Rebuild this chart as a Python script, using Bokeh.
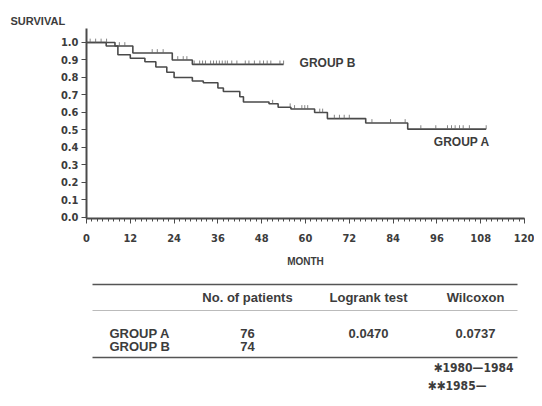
import numpy as np
from bokeh.plotting import figure
from bokeh.layouts import column
from bokeh.models import Range1d, Label, FixedTicker, NumeralTickFormatter
from bokeh.core.properties import value
from bokeh.embed import file_html
from bokeh.resources import INLINE

# ---------------- data ----------------
a_times = [0, 5.4, 8.6, 12, 16, 19, 22, 24, 29, 32, 36, 37.5, 42, 43, 50, 52.5, 56, 62.5, 66, 76.5, 88]
a_surv = [1.0, 0.98, 0.93, 0.91, 0.89, 0.86, 0.83, 0.80, 0.78, 0.77, 0.74, 0.72, 0.69, 0.66, 0.65, 0.63, 0.62, 0.60, 0.565, 0.54, 0.505]
a_end = 109.5
a_censor = [51, 55.8, 57, 59, 59.8, 60.6, 63.9, 64.7, 67.9, 69.3, 70.6, 72, 78.2, 83.3, 87.3,
            91.6, 95.7, 98.9, 100, 101, 102.2, 103.2, 104.9, 109.5]

b_times = [0, 7.8, 12.7, 23.5, 29]
b_surv = [1.0, 0.98, 0.94, 0.90, 0.875]
b_end = 54
b_censor = [1, 2.5, 4, 5.5, 9, 10.5, 18, 19.4, 21, 25, 26.5, 27.5, 29.5, 31, 31.8, 32.6, 34, 34.8,
            35.6, 36.4, 37.2, 38, 38.6, 39.8, 41.2, 43.5, 44.5, 46, 47.5, 48.5, 49.5, 50.5, 53, 54]

x_ticks = [0, 12, 24, 36, 48, 60, 72, 84, 96, 108, 120]
y_ticks = [0.0, 0.1, 0.2, 0.3, 0.4, 0.5, 0.6, 0.7, 0.8, 0.9, 1.0]

table_header = ["No. of patients", "Logrank test", "Wilcoxon"]
table_groups = ["GROUP A", "GROUP B"]
table_patients = ["76", "74"]
table_logrank = ["0.0470", ""]
table_wilcoxon = ["0.0737", ""]
footnotes = ["\u27311980\u20141984", "\u2731\u27311985\u2014"]

TXT = "#3c3c3c"
LINE = "#4a4a4a"
FONT = "Liberation Sans"
NUMFONT = "DejaVu Sans Condensed"

W = 534
BL, BR = 86, 10

# ---------------- chart ----------------
p = figure(width=W, height=278, output_backend="svg", toolbar_location=None,
           x_range=Range1d(0, 120), y_range=Range1d(-0.006, 1.08),
           min_border_left=BL, min_border_right=BR, min_border_top=28, min_border_bottom=60)
p.outline_line_color = None
p.grid.grid_line_color = None
p.background_fill_color = "white"
p.border_fill_color = "white"

p.title.text = "SURVIVAL"
p.title.align = "left"
p.title.offset = -76
p.title.standoff = 2
p.title.vertical_align = "middle"
p.title.text_font = FONT
p.title.text_font_style = "bold"
p.title.text_font_size = "11px"
p.title.text_color = TXT


def step_xy(times, surv, end):
    xs = list(times) + [end]
    ys = list(surv) + [surv[-1]]
    return xs, ys


def surv_at(times, surv, t):
    idx = np.searchsorted(np.array(times), np.array(t), side="right") - 1
    return np.array(surv)[idx]


for times, surv, end, cens in [(a_times, a_surv, a_end, a_censor), (b_times, b_surv, b_end, b_censor)]:
    xs, ys = step_xy(times, surv, end)
    p.step(xs, ys, mode="after", line_color=LINE, line_width=1.6)
    sy = surv_at(times, surv, cens)
    p.segment(x0=cens, y0=sy, x1=cens, y1=sy + 0.022, line_color="#666666", line_width=0.8)

p.xaxis.ticker = FixedTicker(ticks=x_ticks, minor_ticks=list(np.arange(0, 121, 1.5)))
p.yaxis.ticker = FixedTicker(ticks=y_ticks)
p.yaxis.formatter = NumeralTickFormatter(format="0.0")

for ax in (p.xaxis[0], p.yaxis[0]):
    ax.axis_line_color = LINE
    ax.axis_line_width = 2
    ax.major_tick_line_color = LINE
    ax.minor_tick_line_color = LINE
    ax.major_label_text_color = TXT
    ax.major_label_text_font = NUMFONT
    ax.major_label_text_font_size = "11px"
    ax.major_label_text_font_style = "bold"

p.xaxis.major_tick_out = 5
p.xaxis.major_tick_in = 0
p.xaxis.minor_tick_out = 3
p.xaxis.minor_tick_in = 0
p.xaxis.major_label_standoff = 10
p.xaxis.axis_label = "MONTH"
p.xaxis.axis_label_text_font = FONT
p.xaxis.axis_label_text_font_style = "bold"
p.xaxis.axis_label_text_font_size = "10px"
p.xaxis.axis_label_text_color = TXT
p.xaxis.axis_label_standoff = 11

p.yaxis.major_tick_out = 5
p.yaxis.major_tick_in = 0
p.yaxis.minor_tick_out = 0
p.yaxis.minor_tick_in = 0
p.yaxis.major_label_standoff = 3

p.add_layout(Label(x=b_end, y=b_surv[-1], text="GROUP  B", text_font=FONT, text_font_style="bold",
                   text_font_size="12px", text_color=TXT, text_align="left", text_baseline="middle",
                   x_offset=16, y_offset=1))
p.add_layout(Label(x=a_end, y=a_surv[-1], text="GROUP  A", text_font=FONT, text_font_style="bold",
                   text_font_size="12px", text_color=TXT, text_align="right", text_baseline="middle",
                   x_offset=7, y_offset=-13))

# ---------------- table (coordinates in page pixels) ----------------
t = figure(width=W, height=120, output_backend="svg", toolbar_location=None,
           x_range=Range1d(BL, W - BR), y_range=Range1d(398, 278),
           min_border_left=BL, min_border_right=BR, min_border_top=0, min_border_bottom=0)
t.axis.visible = False
t.grid.grid_line_color = None
t.outline_line_color = None

t.segment(x0=[92, 92, 92], y0=[284, 310, 357], x1=[517, 517, 517], y1=[284, 310, 357],
          line_color=["#555555", "#bbbbbb", "#555555"], line_width=[1.6, 1, 1.6])

col_x = [247, 368, 475]
t.text(x=col_x, y=[297, 297, 297], text=table_header, text_font=value(FONT), text_font_style="bold",
       text_font_size="13px", text_color=TXT, text_align="center", text_baseline="middle")
row_y = [333, 346]
t.text(x=[109, 109], y=row_y, text=table_groups, text_font=value(FONT), text_font_style="bold",
       text_font_size="13px", text_color=TXT, text_align="left", text_baseline="middle")
t.text(x=[col_x[0]] * 2, y=row_y, text=table_patients, text_font=value(FONT),
       text_font_style="bold", text_font_size="13px", text_color=TXT, text_align="center",
       text_baseline="middle")
t.text(x=[col_x[1]] * 2, y=row_y, text=table_logrank, text_font=value(FONT),
       text_font_style="bold", text_font_size="13px", text_color=TXT, text_align="center",
       text_baseline="middle")
t.text(x=[col_x[2]] * 2, y=row_y, text=table_wilcoxon, text_font=value(FONT),
       text_font_style="bold", text_font_size="13px", text_color=TXT, text_align="center",
       text_baseline="middle")
t.text(x=[433, 427], y=[367, 385], text=footnotes, text_font=value(NUMFONT),
       text_font_style="bold", text_font_size="12px", text_color=TXT, text_align="left",
       text_baseline="middle")

layout = column(p, t, spacing=0)
open("out.html", "w").write(file_html(layout, INLINE))
